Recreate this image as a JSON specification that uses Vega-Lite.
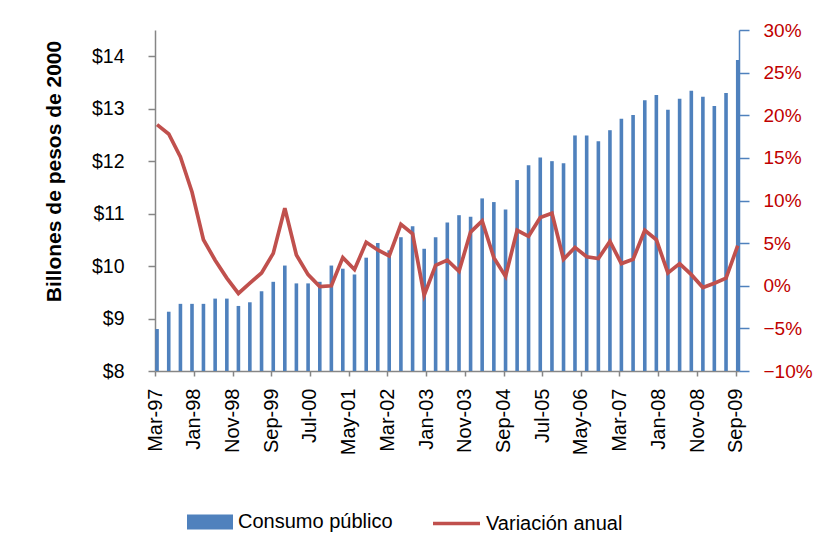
{
  "$schema": "https://vega.github.io/schema/vega-lite/v6.json",
  "width": 584,
  "height": 341,
  "autosize": {"type": "none"},
  "padding": {"left": 155, "top": 30, "right": 100, "bottom": 165},
  "background": "white",
  "config": {
    "font": "Liberation Sans",
    "view": {"stroke": null},
    "axis": {"grid": false, "labelFlush": false}
  },
  "data": {
    "values": [
      {"fecha": "1997/03/17", "consumo": 8.80, "variacion": 0.189},
      {"fecha": "1997/06/17", "consumo": 9.13, "variacion": 0.178},
      {"fecha": "1997/09/17", "consumo": 9.28, "variacion": 0.151},
      {"fecha": "1997/12/17", "consumo": 9.28, "variacion": 0.110},
      {"fecha": "1998/03/17", "consumo": 9.28, "variacion": 0.054},
      {"fecha": "1998/06/17", "consumo": 9.38, "variacion": 0.030},
      {"fecha": "1998/09/17", "consumo": 9.38, "variacion": 0.009},
      {"fecha": "1998/12/17", "consumo": 9.24, "variacion": -0.009},
      {"fecha": "1999/03/17", "consumo": 9.31, "variacion": 0.003},
      {"fecha": "1999/06/17", "consumo": 9.52, "variacion": 0.015},
      {"fecha": "1999/09/17", "consumo": 9.70, "variacion": 0.038},
      {"fecha": "1999/12/17", "consumo": 10.01, "variacion": 0.091},
      {"fecha": "2000/03/17", "consumo": 9.67, "variacion": 0.036},
      {"fecha": "2000/06/17", "consumo": 9.67, "variacion": 0.013},
      {"fecha": "2000/09/17", "consumo": 9.70, "variacion": -0.001},
      {"fecha": "2000/12/17", "consumo": 10.01, "variacion": 0.000},
      {"fecha": "2001/03/17", "consumo": 9.95, "variacion": 0.033},
      {"fecha": "2001/06/17", "consumo": 9.84, "variacion": 0.019},
      {"fecha": "2001/09/17", "consumo": 10.16, "variacion": 0.051},
      {"fecha": "2001/12/17", "consumo": 10.44, "variacion": 0.042},
      {"fecha": "2002/03/17", "consumo": 10.30, "variacion": 0.035},
      {"fecha": "2002/06/17", "consumo": 10.55, "variacion": 0.072},
      {"fecha": "2002/09/17", "consumo": 10.76, "variacion": 0.061},
      {"fecha": "2002/12/17", "consumo": 10.33, "variacion": -0.011},
      {"fecha": "2003/03/17", "consumo": 10.55, "variacion": 0.024},
      {"fecha": "2003/06/17", "consumo": 10.83, "variacion": 0.030},
      {"fecha": "2003/09/17", "consumo": 10.97, "variacion": 0.017},
      {"fecha": "2003/12/17", "consumo": 10.94, "variacion": 0.063},
      {"fecha": "2004/03/17", "consumo": 11.29, "variacion": 0.076},
      {"fecha": "2004/06/17", "consumo": 11.22, "variacion": 0.033},
      {"fecha": "2004/09/17", "consumo": 11.08, "variacion": 0.011},
      {"fecha": "2004/12/17", "consumo": 11.64, "variacion": 0.065},
      {"fecha": "2005/03/17", "consumo": 11.92, "variacion": 0.058},
      {"fecha": "2005/06/17", "consumo": 12.07, "variacion": 0.080},
      {"fecha": "2005/09/17", "consumo": 12.00, "variacion": 0.085},
      {"fecha": "2005/12/17", "consumo": 11.96, "variacion": 0.031},
      {"fecha": "2006/03/17", "consumo": 12.49, "variacion": 0.045},
      {"fecha": "2006/06/17", "consumo": 12.49, "variacion": 0.034},
      {"fecha": "2006/09/17", "consumo": 12.38, "variacion": 0.032},
      {"fecha": "2006/12/17", "consumo": 12.59, "variacion": 0.052},
      {"fecha": "2007/03/17", "consumo": 12.81, "variacion": 0.026},
      {"fecha": "2007/06/17", "consumo": 12.88, "variacion": 0.031},
      {"fecha": "2007/09/17", "consumo": 13.16, "variacion": 0.065},
      {"fecha": "2007/12/17", "consumo": 13.26, "variacion": 0.054},
      {"fecha": "2008/03/17", "consumo": 12.98, "variacion": 0.015},
      {"fecha": "2008/06/17", "consumo": 13.19, "variacion": 0.026},
      {"fecha": "2008/09/17", "consumo": 13.34, "variacion": 0.013},
      {"fecha": "2008/12/17", "consumo": 13.23, "variacion": -0.002},
      {"fecha": "2009/03/17", "consumo": 13.05, "variacion": 0.003},
      {"fecha": "2009/06/17", "consumo": 13.30, "variacion": 0.009},
      {"fecha": "2009/09/17", "consumo": 13.93, "variacion": 0.047}
    ]
  },
  "encoding": {
    "x": {
      "field": "fecha",
      "type": "temporal",
      "scale": {"domain": [{"year": 1997, "month": 3, "date": 1}, {"year": 2009, "month": 9, "date": 27}], "padding": 0, "nice": false},
      "axis": {
        "title": null,
        "values": [
          {"year": 1997, "month": 3, "date": 1},
          {"year": 1998, "month": 1, "date": 1},
          {"year": 1998, "month": 11, "date": 1},
          {"year": 1999, "month": 9, "date": 1},
          {"year": 2000, "month": 7, "date": 1},
          {"year": 2001, "month": 5, "date": 1},
          {"year": 2002, "month": 3, "date": 1},
          {"year": 2003, "month": 1, "date": 1},
          {"year": 2003, "month": 11, "date": 1},
          {"year": 2004, "month": 9, "date": 1},
          {"year": 2005, "month": 7, "date": 1},
          {"year": 2006, "month": 5, "date": 1},
          {"year": 2007, "month": 3, "date": 1},
          {"year": 2008, "month": 1, "date": 1},
          {"year": 2008, "month": 11, "date": 1},
          {"year": 2009, "month": 9, "date": 1}
        ],
        "format": "%b-%y",
        "labelAngle": -90,
        "labelFontSize": 20,
        "labelColor": "black",
        "labelPadding": 12,
        "labelOverlap": false,
        "labelBound": false,
        "tickSize": 5,
        "tickColor": "#868686",
        "domainColor": "#868686",
        "domainWidth": 1.5,
        "tickWidth": 1.5
      }
    }
  },
  "layer": [
    {
      "mark": {"type": "bar", "size": 3.6},
      "encoding": {
        "y": {
          "field": "consumo",
          "type": "quantitative",
          "scale": {"domain": [8, 14.5], "zero": false, "nice": false},
          "axis": {
            "orient": "left",
            "values": [8, 9, 10, 11, 12, 13, 14],
            "format": "$,.0f",
            "labelFontSize": 19.5,
            "labelColor": "black",
            "labelPadding": 24,
            "tickSize": 7,
            "tickColor": "#868686",
            "domainColor": "#868686",
            "domainWidth": 1.5,
            "tickWidth": 1.5,
            "title": "Billones de pesos de 2000",
            "titleFontSize": 21,
            "titleFontWeight": "bold",
            "titleColor": "black",
            "titleX": -95,
            "titleY": 141,
            "titleAlign": "center",
            "titleBaseline": "alphabetic"
          }
        },
        "y2": {"datum": 8},
        "color": {
          "datum": "Consumo público",
          "scale": {"range": ["#4F81BD"]},
          "legend": {
            "orient": "none",
            "legendX": 32,
            "legendY": 469,
            "title": null,
            "padding": 0,
            "symbolType": "M-1,-0.326L1,-0.326L1,0.326L-1,0.326Z",
            "symbolSize": 2116,
            "symbolStrokeWidth": 0,
            "labelFontSize": 20,
            "labelColor": "black",
            "labelOffset": 5,
            "labelLimit": 300
          }
        }
      }
    },
    {
      "mark": {"type": "line", "strokeWidth": 3.7},
      "encoding": {
        "y": {
          "field": "variacion",
          "type": "quantitative",
          "scale": {"domain": [-0.1, 0.3], "nice": false, "zero": false},
          "axis": {
            "orient": "right",
            "values": [-0.1, -0.05, 0, 0.05, 0.1, 0.15, 0.2, 0.25, 0.3],
            "format": ".0%",
            "labelFontSize": 19,
            "labelColor": "#C00000",
            "labelPadding": 14,
            "tickSize": 10,
            "tickColor": "#4F81BD",
            "domainColor": "#4F81BD",
            "domainWidth": 1.5,
            "tickWidth": 1.5,
            "title": null
          }
        },
        "stroke": {
          "datum": "Variación anual",
          "scale": {"range": ["#C0504D"]},
          "legend": {
            "orient": "none",
            "legendX": 276,
            "legendY": 468,
            "title": null,
            "padding": 0,
            "symbolType": "stroke",
            "symbolSize": 2209,
            "symbolStrokeWidth": 3.5,
            "labelFontSize": 20,
            "labelColor": "black",
            "labelOffset": 4,
            "labelLimit": 300
          }
        }
      }
    }
  ],
  "resolve": {"scale": {"y": "independent"}}
}
